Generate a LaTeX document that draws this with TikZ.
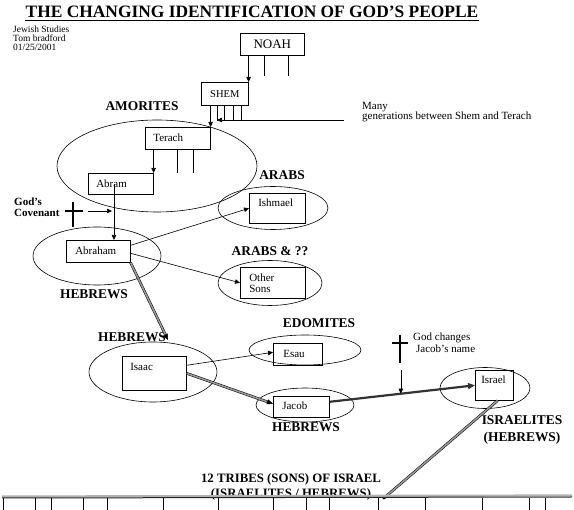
\documentclass[tikz,border=0pt]{standalone}
\usepackage{fontspec}
\setmainfont{Liberation Serif}
\usetikzlibrary{arrows.meta,calc}

\tikzset{
  box/.style={draw, line width=.6pt, anchor=north west, inner xsep=8pt, inner ysep=0pt,
    align=left, font=\fontsize{11}{11}\selectfont},
  tag/.style={inner sep=0pt, font=\fontsize{13.4}{15}\selectfont\bfseries},
  note/.style={inner sep=0pt, anchor=north west, align=left},
  grp/.style={line width=.6pt},
  stub/.style={line width=.6pt},
  link/.style={line width=.6pt, -{Triangle[length=5pt,width=4.5pt]}},
  dbl/.style={line width=.5pt, double=black!40, double distance=1.6pt},
  dtip/.style={-{Triangle[length=6pt,width=5pt]}},
  heavy/.style={line width=2.2pt, black!80, -{Triangle[length=7pt,width=6pt]}},
  cross/.style={line width=1.6pt},
}

\begin{document}
\begin{tikzpicture}[x=1pt, y=-1pt]
\useasboundingbox (0,0) rectangle (574,510);

% heading
\node[inner sep=0pt, anchor=base, font=\fontsize{17.4}{20}\selectfont\bfseries] (title) at (252,18)
  {THE CHANGING IDENTIFICATION OF GOD’S PEOPLE};
\draw[line width=1.4pt] ([yshift=-2.5pt]title.base west) -- ([yshift=-2.5pt]title.base east);
\node[note, font=\fontsize{9.5}{9}\selectfont] (info) at (13,26) {Jewish Studies\\Tom bradford\\01/25/2001};

% groups
\draw[grp] (157,166) ellipse (100 and 46);
\draw[grp] (97,256) ellipse (64 and 29);
\draw[grp] (273,208) ellipse (55 and 21.5);
\draw[grp] (270,283) ellipse (52 and 22.5);
\draw[grp] (153,372) ellipse (64 and 30);
\draw[grp] (305,350) ellipse (56 and 15);
\draw[grp] (305,405) ellipse (49 and 17);
\draw[grp] (485,388) ellipse (45 and 20.5);

% people
\node[box, text width=48pt, align=center, text height=15.3pt, text depth=6.7pt,
  font=\fontsize{13}{13}\selectfont] (noah) at (240,33) {NOAH};
\node[box, text width=31pt, align=center, text height=15pt, text depth=8pt,
  font=\fontsize{10.5}{10.5}\selectfont] (shem) at (201,82) {SHEM};
\node[box, text width=49pt, text height=14.5pt, text depth=7.5pt] (terach) at (145,127) {Terach};
\node[box, text width=49pt, text height=14pt, text depth=7pt] (abram) at (88,173) {Abram};
\node[box, inner xsep=9pt, text width=46pt, text height=14.5pt, text depth=7.5pt] (abraham) at (66,240) {Abraham};
\node[box, inner xsep=9pt, text width=38pt, text height=13.5pt, text depth=16.5pt] (ishmael) at (249,193) {Ishmael};
\node[box, inner xsep=9pt, text width=47pt, minimum height=31pt] (sons) at (240,267) {Other\\Sons};
\node[box, inner xsep=10pt, text width=29pt, text height=14pt, text depth=8pt] (esau) at (273,343) {Esau};
\node[box, text width=48pt, text height=14.5pt, text depth=19.5pt] (isaac) at (122,356) {Isaac};
\node[box, inner xsep=9pt, text width=38pt, text height=13.5pt, text depth=7.5pt] (jacob) at (273,396) {Jacob};
\node[box, inner xsep=6pt, text width=26pt, text height=13.5pt, text depth=16.5pt] (israel) at (475,370) {Israel};

% labels
\node[tag] (amorites) at (142,106) {AMORITES};
\node[tag] (arabs) at (282,175) {ARABS};
\node[tag] (arabsq) at (270,251) {ARABS \& ??};
\node[tag] (hebrews1) at (94,294) {HEBREWS};
\node[tag] (hebrews2) at (132,337) {HEBREWS};
\node[tag] (edomites) at (319,323) {EDOMITES};
\node[tag] (hebrews3) at (306,427) {HEBREWS};
\node[tag, align=center, anchor=north, font=\fontsize{13.4}{17}\selectfont\bfseries] (israelites) at (522,415.5)
  {ISRAELITES\\(HEBREWS)};
\node[tag, align=center, anchor=north, font=\fontsize{12.8}{15}\selectfont\bfseries] (twelve) at (291,473)
  {12 TRIBES (SONS) OF ISRAEL\\(ISRAELITES / HEBREWS)};

% Noah to Shem to Terach
\draw[link] (shem.north east |- noah.south) -- (shem.north east);
\foreach \dx in {24,48} \draw[stub] ([xshift=\dx pt]noah.south west) -- ++(0,20);
\draw[link] (terach.north east |- shem.south) -- (terach.north east);
\foreach \dx in {16,23,32,40} \draw[stub] ([xshift=\dx pt]shem.south west) -- ++(0,15);
\coordinate (gen) at (344,120);
\coordinate (genend) at ([xshift=16pt]shem.south west);
\draw[link] (gen) -- (genend |- gen);
\node[note, font=\fontsize{11}{10.5}\selectfont] (many) at (362,102) {Many\\generations between Shem and Terach};

% Terach to Abram to Abraham
\draw[link] (abram.north east |- terach.south) -- (abram.north east);
\foreach \dx in {32,48} \draw[stub] ([xshift=\dx pt]terach.south west) -- ++(0,23);
\coordinate (cv) at ([xshift=48pt]abraham.north west);
\draw[link] (cv |- abram.center) -- (cv);

% covenant
\coordinate (cov) at (73,202);
\draw[cross] (cov) -- ++(0,25) ([shift={(-8,9)}]cov) -- ++(18,0);
\draw[link] ([shift={(15,9)}]cov) -- ++(24,0);
\node[note, font=\fontsize{11}{11}\selectfont\bfseries] (covenant) at (14,198) {God’s\\Covenant};

% Abraham's sons
\draw[link] ([yshift=6pt]abraham.east) -- (ishmael.west);
\draw[link] ([yshift=-2pt]abraham.east) -- (sons.west);
\coordinate (toisaac) at (168,340);
\draw[dbl, dtip] (abraham.south east) -- (toisaac);

% Isaac's sons
\draw[link] ([yshift=8pt]isaac.east) -- ([yshift=2pt]esau.west);
\draw[dbl, dtip] (isaac.east) -- ([yshift=3pt]jacob.west);

% Jacob becomes Israel
\draw[heavy] ([yshift=5pt]jacob.east) -- (israel.west);
\coordinate (rename) at ($([yshift=5pt]jacob.east)!.49!(israel.west)$);
\coordinate (gc) at (400,335);
\draw[cross] (gc) -- ++(0,28) ([shift={(-8,8)}]gc) -- ++(16,0);
\draw[link] (rename |- 0,370) -- (rename);
\node[note, font=\fontsize{11}{12}\selectfont] (changes) at (413,333) {God changes\\\hspace*{3pt}Jacob’s name};

% twelve tribes
\coordinate (tribes) at (384,498);
\draw[dbl] ([xshift=-16pt]israel.south east) -- (tribes);
\fill (tribes) circle (1.6);
\draw[line width=2.2pt, black!30] (2,496.5) -- (572,495.5);
\draw[line width=1pt, black!85] (2,498) -- (572,497);
\foreach \x in {3,35,51,83,107,163,218,273,306,329,378,425,482,529,545}
  \draw[line width=.5pt] (\x,498) -- (\x,510);
\end{tikzpicture}
\end{document}
